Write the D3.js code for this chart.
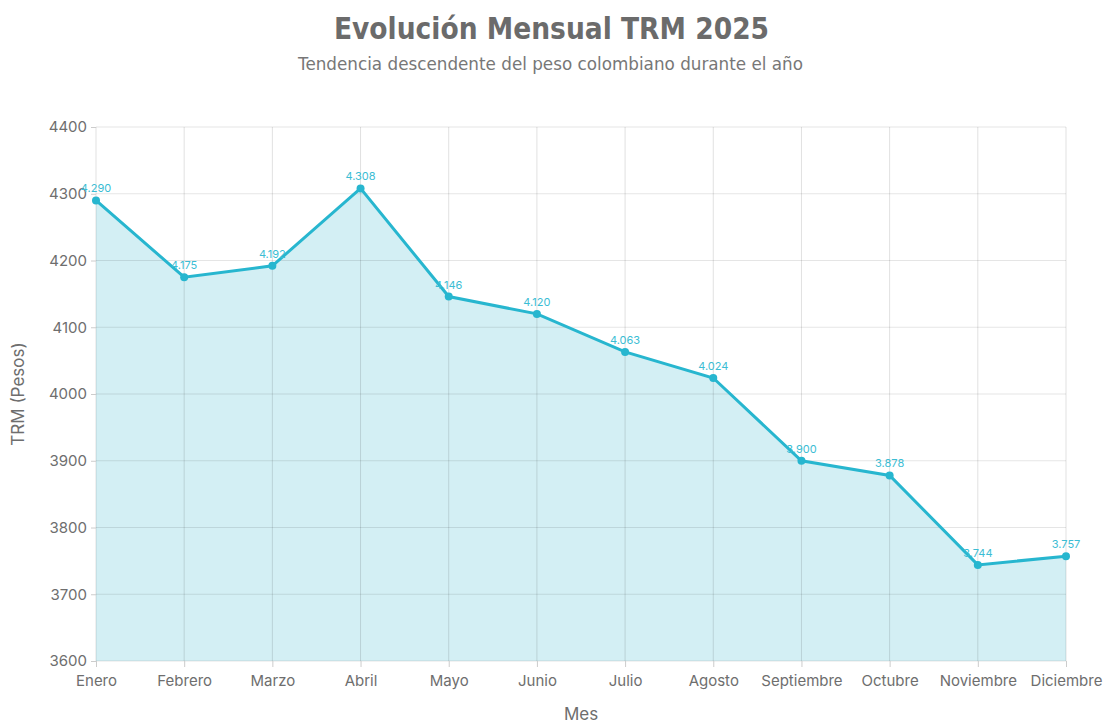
<!DOCTYPE html>
<html>
<head>
<meta charset="utf-8">
<script src="https://cdn.jsdelivr.net/npm/d3@7"></script>
<style>
  body { margin: 0; background: #fff; }
  svg { display: block; }
</style>
</head>
<body>
<div id="root"></div>
<script>
const months = ["Enero", "Febrero", "Marzo", "Abril", "Mayo", "Junio", "Julio", "Agosto", "Septiembre", "Octubre", "Noviembre", "Diciembre"];
const trm = [4290, 4175, 4192, 4308, 4146, 4120, 4063, 4024, 3900, 3878, 3744, 3757];
const yTicks = [3600, 3700, 3800, 3900, 4000, 4100, 4200, 4300, 4400];

const width = 1103, height = 723;
const margin = { top: 127, right: 37, bottom: 62, left: 96 };
const lineColor = "#27b6cf";
const fillColor = "#d3eff4";
const textColor = "#6e6e6e";

const svg = d3.select("#root")
  .append("svg")
    .attr("width", width)
    .attr("height", height);

const x = d3.scalePoint()
  .domain(months)
  .range([margin.left, width - margin.right]);

const y = d3.scaleLinear()
  .domain([3600, 4400])
  .range([height - margin.bottom, margin.top]);

// titles
svg.append("text")
  .attr("x", width / 2).attr("y", 39)
  .attr("text-anchor", "middle")
  .style("font-family", "DejaVu Sans Condensed, DejaVu Sans")
  .style("font-stretch", "condensed")
  .style("font-weight", "bold")
  .style("font-size", "29.5px")
  .style("fill", "#6b6b6b")
  .text("Evolución Mensual TRM 2025");

svg.append("text")
  .attr("x", width / 2 - 1).attr("y", 70)
  .attr("text-anchor", "middle")
  .style("font-family", "DejaVu Sans")
  .style("font-size", "16.8px")
  .style("fill", "#777")
  .text("Tendencia descendente del peso colombiano durante el año");

// area fill
const pts = months.map((m, i) => ({ m, v: trm[i] }));
svg.append("path")
  .datum(pts)
  .attr("fill", fillColor)
  .attr("d", d3.area().x(d => x(d.m)).y0(y(3600)).y1(d => y(d.v)));

// grid
svg.append("g")
  .selectAll("line")
  .data(yTicks)
  .join("line")
    .attr("x1", margin.left).attr("x2", width - margin.right)
    .attr("y1", d => y(d)).attr("y2", d => y(d))
    .attr("stroke", "#000").attr("stroke-opacity", 0.1);

svg.append("g")
  .selectAll("line")
  .data(months)
  .join("line")
    .attr("x1", d => x(d)).attr("x2", d => x(d))
    .attr("y1", margin.top).attr("y2", y(3600))
    .attr("stroke", "#000").attr("stroke-opacity", 0.12);

// axes
const yAxis = svg.append("g")
  .attr("transform", `translate(${margin.left},0)`)
  .call(d3.axisLeft(y).tickValues(yTicks).tickFormat(d3.format("d")).tickSize(5).tickPadding(4));
yAxis.select(".domain").remove();

const xAxis = svg.append("g")
  .attr("transform", `translate(0,${y(3600)})`)
  .call(d3.axisBottom(x).tickSize(6).tickPadding(8));
xAxis.select(".domain").remove();

svg.selectAll(".tick line").attr("stroke", "#ccc");
svg.selectAll(".tick text")
  .style("font-family", "Inter")
  .style("font-size", "15px")
  .style("fill", textColor);

// axis titles
svg.append("text")
  .attr("transform", `translate(24,${(margin.top + y(3600)) / 2}) rotate(-90)`)
  .attr("text-anchor", "middle")
  .style("font-family", "Inter")
  .style("font-size", "17px")
  .style("fill", textColor)
  .text("TRM (Pesos)");

svg.append("text")
  .attr("x", (margin.left + width - margin.right) / 2).attr("y", 720)
  .attr("text-anchor", "middle")
  .style("font-family", "Inter")
  .style("font-size", "17px")
  .style("fill", textColor)
  .text("Mes");

// line + points
svg.append("path")
  .datum(pts)
  .attr("fill", "none")
  .attr("stroke", lineColor)
  .attr("stroke-width", 3)
  .attr("d", d3.line().x(d => x(d.m)).y(d => y(d.v)));

svg.append("g")
  .selectAll("circle")
  .data(pts)
  .join("circle")
    .attr("cx", d => x(d.m)).attr("cy", d => y(d.v))
    .attr("r", 4)
    .attr("fill", lineColor);

const fmt = d3.formatLocale({ decimal: ",", thousands: ".", grouping: [3], currency: ["$", ""] }).format(",");
svg.append("g")
  .selectAll("text")
  .data(pts)
  .join("text")
    .attr("x", d => x(d.m)).attr("y", d => y(d.v) - 8)
    .attr("text-anchor", "middle")
    .style("font-family", "Inter")
    .style("font-size", "11px")
    .style("fill", "#3bbdd4")
    .text(d => fmt(d.v));
</script>
</body>
</html>
